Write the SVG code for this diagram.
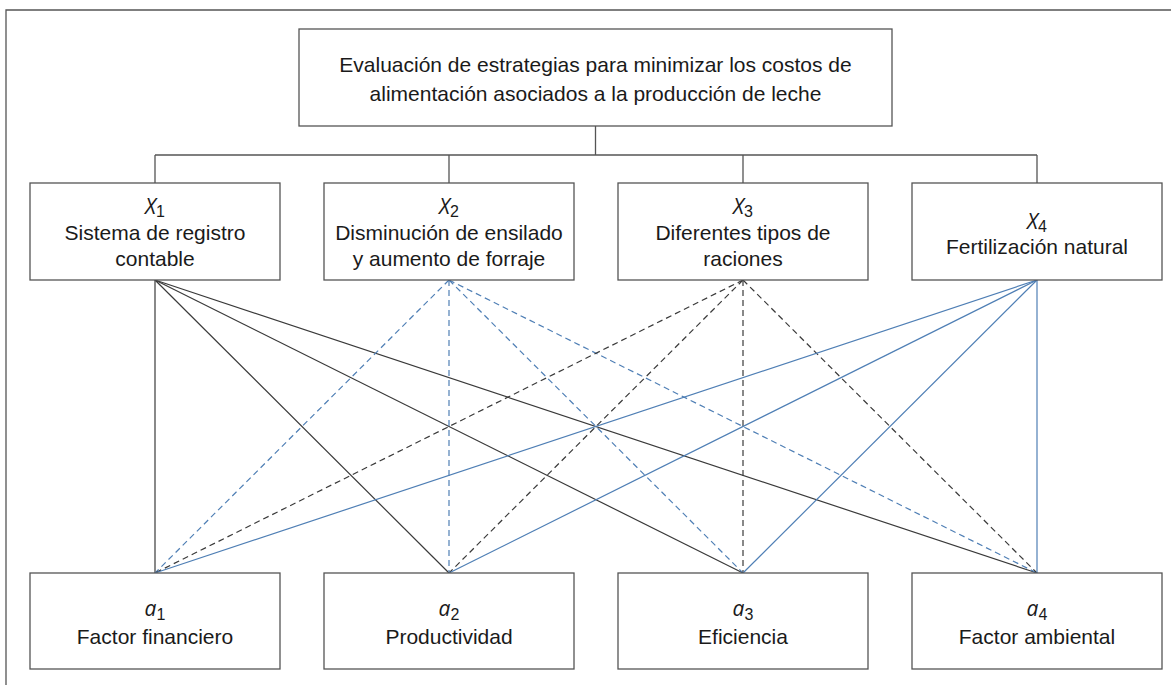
<svg xmlns="http://www.w3.org/2000/svg" width="1171" height="685" viewBox="0 0 1171 685">
<style>
.box{fill:#fff;stroke:#555;stroke-width:1.3}
.frame{fill:none;stroke:#555;stroke-width:1.3}
.tree{fill:none;stroke:#555;stroke-width:1.3}
.t{font-family:"Liberation Sans",Arial,sans-serif;font-size:21px;fill:#1a1a1a;text-anchor:middle}
.it{font-family:"Open Sans","Noto Sans",sans-serif;font-style:italic;font-size:21px}
.sub{font-family:"Liberation Sans",Arial,sans-serif;font-size:16px}
.k{stroke:#3a3a3a;stroke-width:1.2;fill:none}
.kd{stroke:#3a3a3a;stroke-width:1.2;fill:none;stroke-dasharray:6 4}
.b{stroke:#4f7fb5;stroke-width:1.2;fill:none}
.bd{stroke:#4f7fb5;stroke-width:1.2;fill:none;stroke-dasharray:6 4}
</style>
<rect width="1171" height="685" fill="#fff"/>
<path class="frame" d="M6 685 V10 H1171"/>
<g id="connectors">
<path class="tree" d="M595.5 126 V155 M155 155 H1037 M155 155 V183 M449 155 V183 M743 155 V183 M1037 155 V183"/>
<g id="x1-links">
<line class="k" x1="155" y1="280" x2="155" y2="573"/>
<line class="k" x1="155" y1="280" x2="449" y2="573"/>
<line class="k" x1="155" y1="280" x2="743" y2="573"/>
<line class="k" x1="155" y1="280" x2="1037" y2="573"/>
</g>
<g id="x2-links">
<line class="bd" x1="449" y1="280" x2="155" y2="573"/>
<line class="bd" x1="449" y1="280" x2="449" y2="573"/>
<line class="bd" x1="449" y1="280" x2="743" y2="573"/>
<line class="bd" x1="449" y1="280" x2="1037" y2="573"/>
</g>
<g id="x3-links">
<line class="kd" x1="743" y1="280" x2="155" y2="573"/>
<line class="kd" x1="743" y1="280" x2="449" y2="573"/>
<line class="kd" x1="743" y1="280" x2="743" y2="573"/>
<line class="kd" x1="743" y1="280" x2="1037" y2="573"/>
</g>
<g id="x4-links">
<line class="b" x1="1037" y1="280" x2="155" y2="573"/>
<line class="b" x1="1037" y1="280" x2="449" y2="573"/>
<line class="b" x1="1037" y1="280" x2="743" y2="573"/>
<line class="b" x1="1037" y1="280" x2="1037" y2="573"/>
</g>
</g>
<g id="goal">
<rect class="box" x="299" y="29" width="593" height="97"/>
<text class="t" x="595.5" y="72">Evaluación de estrategias para minimizar los costos de</text>
<text class="t" x="595.5" y="101">alimentación asociados a la producción de leche</text>
</g>
<g id="x1">
<rect class="box" x="30" y="183" width="250" height="97"/>
<text class="t" x="155" y="214"><tspan class="it">X</tspan><tspan class="sub" dy="3">1</tspan></text>
<text class="t" x="155" y="240">Sistema de registro</text>
<text class="t" x="155" y="266">contable</text>
</g>
<g id="x2">
<rect class="box" x="324" y="183" width="250" height="97"/>
<text class="t" x="449" y="214"><tspan class="it">X</tspan><tspan class="sub" dy="3">2</tspan></text>
<text class="t" x="449" y="240">Disminución de ensilado</text>
<text class="t" x="449" y="266">y aumento de forraje</text>
</g>
<g id="x3">
<rect class="box" x="618" y="183" width="250" height="97"/>
<text class="t" x="743" y="214"><tspan class="it">X</tspan><tspan class="sub" dy="3">3</tspan></text>
<text class="t" x="743" y="240">Diferentes tipos de</text>
<text class="t" x="743" y="266">raciones</text>
</g>
<g id="x4">
<rect class="box" x="912" y="183" width="250" height="97"/>
<text class="t" x="1037" y="229"><tspan class="it">X</tspan><tspan class="sub" dy="3">4</tspan></text>
<text class="t" x="1037" y="254">Fertilización natural</text>
</g>
<g id="a1">
<rect class="box" x="30" y="573" width="250" height="96"/>
<text class="t" x="155" y="616"><tspan class="it">a</tspan><tspan class="sub" dy="4">1</tspan></text>
<text class="t" x="155" y="644">Factor financiero</text>
</g>
<g id="a2">
<rect class="box" x="324" y="573" width="250" height="96"/>
<text class="t" x="449" y="616"><tspan class="it">a</tspan><tspan class="sub" dy="4">2</tspan></text>
<text class="t" x="449" y="644">Productividad</text>
</g>
<g id="a3">
<rect class="box" x="618" y="573" width="250" height="96"/>
<text class="t" x="743" y="616"><tspan class="it">a</tspan><tspan class="sub" dy="4">3</tspan></text>
<text class="t" x="743" y="644">Eficiencia</text>
</g>
<g id="a4">
<rect class="box" x="912" y="573" width="250" height="96"/>
<text class="t" x="1037" y="616"><tspan class="it">a</tspan><tspan class="sub" dy="4">4</tspan></text>
<text class="t" x="1037" y="644">Factor ambiental</text>
</g>
</svg>
